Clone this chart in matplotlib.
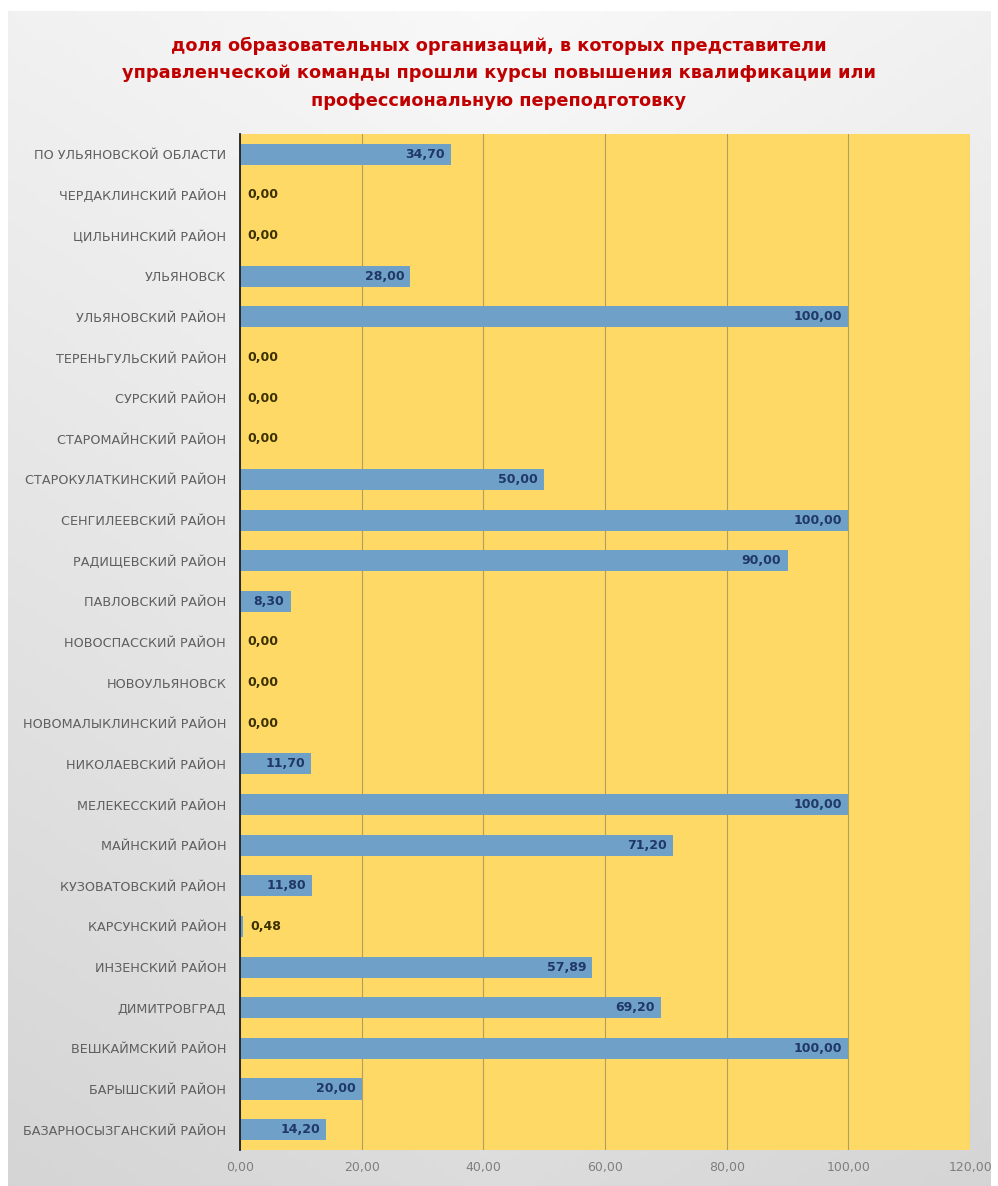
import numpy as np
import matplotlib.pyplot as plt
from matplotlib.ticker import FuncFormatter

districts = [
    'ПО УЛЬЯНОВСКОЙ ОБЛАСТИ', 'ЧЕРДАКЛИНСКИЙ РАЙОН', 'ЦИЛЬНИНСКИЙ РАЙОН',
    'УЛЬЯНОВСК', 'УЛЬЯНОВСКИЙ РАЙОН', 'ТЕРЕНЬГУЛЬСКИЙ РАЙОН', 'СУРСКИЙ РАЙОН',
    'СТАРОМАЙНСКИЙ РАЙОН', 'СТАРОКУЛАТКИНСКИЙ РАЙОН', 'СЕНГИЛЕЕВСКИЙ РАЙОН',
    'РАДИЩЕВСКИЙ РАЙОН', 'ПАВЛОВСКИЙ РАЙОН', 'НОВОСПАССКИЙ РАЙОН',
    'НОВОУЛЬЯНОВСК', 'НОВОМАЛЫКЛИНСКИЙ РАЙОН', 'НИКОЛАЕВСКИЙ РАЙОН',
    'МЕЛЕКЕССКИЙ РАЙОН', 'МАЙНСКИЙ РАЙОН', 'КУЗОВАТОВСКИЙ РАЙОН',
    'КАРСУНСКИЙ РАЙОН', 'ИНЗЕНСКИЙ РАЙОН', 'ДИМИТРОВГРАД',
    'ВЕШКАЙМСКИЙ РАЙОН', 'БАРЫШСКИЙ РАЙОН', 'БАЗАРНОСЫЗГАНСКИЙ РАЙОН',
]
values = [34.70, 0.00, 0.00, 28.00, 100.00, 0.00, 0.00, 0.00, 50.00, 100.00,
          90.00, 8.30, 0.00, 0.00, 0.00, 11.70, 100.00, 71.20, 11.80, 0.48,
          57.89, 69.20, 100.00, 20.00, 14.20]
xticks = [0, 20, 40, 60, 80, 100, 120]

title = ('доля образовательных организаций, в которых представители\n'
         'управленческой команды прошли курсы повышения квалификации или\n'
         'профессиональную переподготовку')

fig = plt.figure(figsize=(9.98, 11.86), dpi=100)

# background panel with soft gradient
bg = fig.add_axes([0.008, 0.0, 0.984, 0.991])
yy = np.linspace(0, 1, 200)[:, None]
xx = np.linspace(0, 1, 200)[None, :]
shade = 0.975 - 0.11 * yy - 0.03 * np.abs(xx - 0.5) * 2
bg.imshow(np.dstack([shade, shade, shade]), aspect='auto', extent=[0, 1, 0, 1])
bg.axis('off')

ax = fig.add_axes([0.2405, 0.0304, 0.7315, 0.8566])
ax.set_facecolor('#FFD966')
y = np.arange(len(districts))
ax.barh(y, values, height=0.52, color='#6FA0C8', zorder=3)
ax.set_xlim(0, 120)
ax.set_ylim(-0.5, len(districts) - 0.5)
ax.invert_yaxis()
ax.set_xticks(xticks)
ax.xaxis.set_major_formatter(FuncFormatter(lambda v, p: f'{v:.2f}'.replace('.', ',')))
ax.set_yticks(y)
ax.set_yticklabels(districts, fontsize=9.2, color='#5f5f5f')
ax.tick_params(axis='x', length=0, labelsize=9, labelcolor='#7f7f7f', pad=8)
ax.tick_params(axis='y', length=0, pad=10)
ax.grid(axis='x', color='#b0a060', linewidth=0.8, zorder=1)
for s in ['top', 'right', 'bottom']:
    ax.spines[s].set_visible(False)
ax.spines['left'].set_color('#202020')
ax.spines['left'].set_linewidth(1.3)
ax.spines['left'].set_zorder(4)

for yi, v in zip(y, values):
    lab = f'{v:.2f}'.replace('.', ',')
    if v < 5:
        ax.text(v + 1.2, yi, lab, ha='left', va='center', fontsize=9,
                fontweight='bold', color='#3a3000', zorder=5)
    else:
        ax.text(v - 1.0, yi, lab, ha='right', va='center', fontsize=9,
                fontweight='bold', color='#1F3864', zorder=5)

fig.text(0.5, 0.907, title, ha='center', va='bottom', fontsize=12.8,
         fontweight='bold', color='#C00000', linespacing=1.7)

fig.savefig('out.png', dpi=100)
